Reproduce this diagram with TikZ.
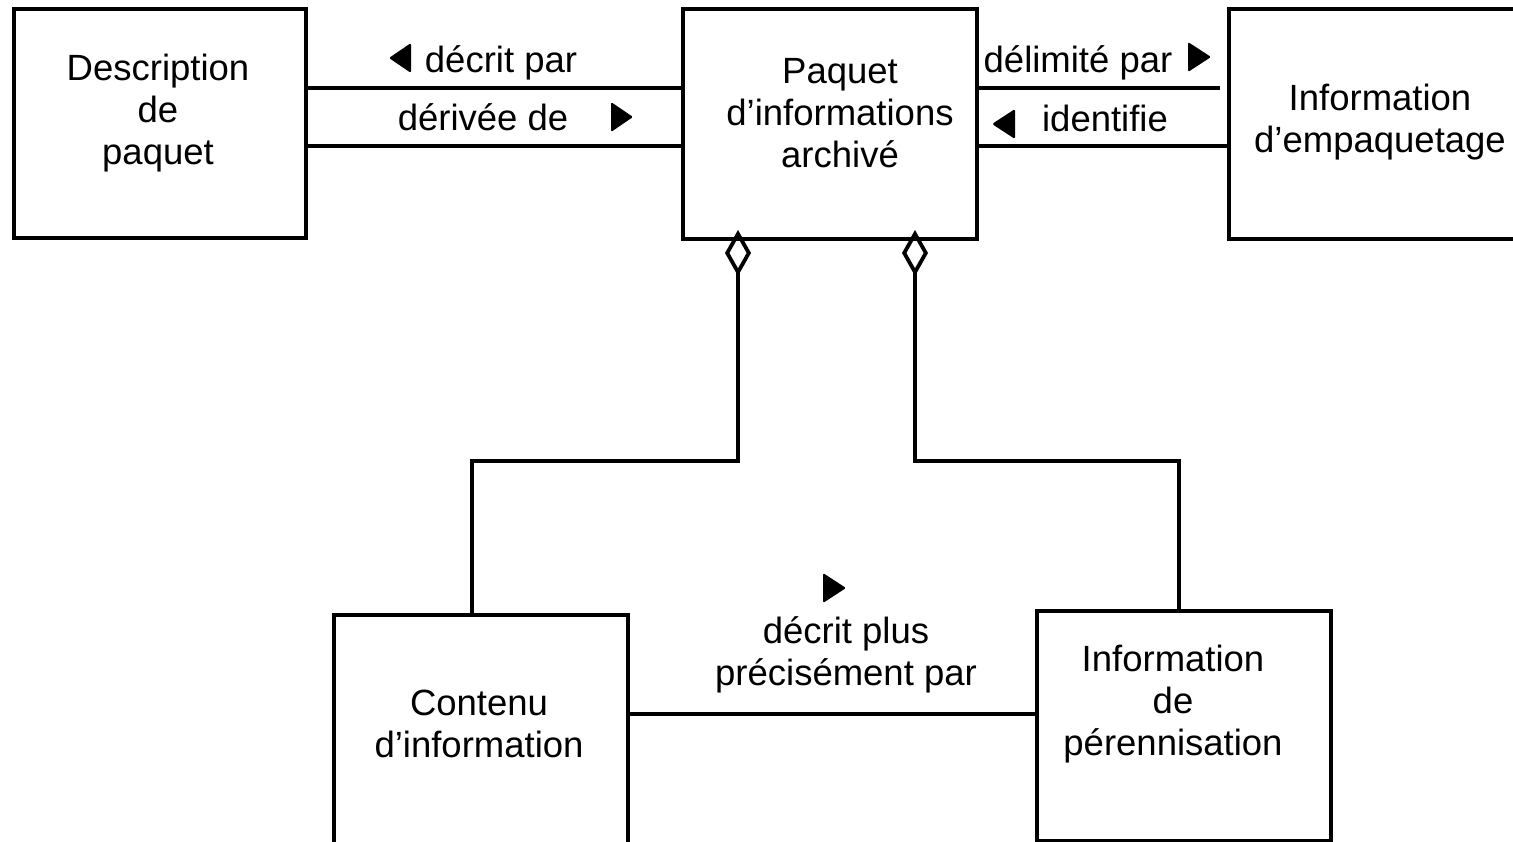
\documentclass[tikz,border=0pt]{standalone}
\usepackage{fontspec}
\setmainfont{Liberation Sans}
\usetikzlibrary{arrows.meta}
\begin{document}
\begin{tikzpicture}[x=1pt,y=-1pt,
  box/.style={draw, line width=3.8pt, inner sep=0pt, anchor=north west},
  lbl/.style={font=\fontsize{36.5}{42}\selectfont, align=center, inner sep=0pt},
  conn/.style={line width=3.8pt},
  agg/.style={conn, {Diamond[open, length=46pt, width=26pt, line width=3.8pt]}-},
  tri/.style={fill=black, rounded corners=1.5pt}]
\useasboundingbox (0,0) rectangle (1513,842);
\clip (0,0) rectangle (1513,842);
% boxes
\node[box, minimum width=292pt, minimum height=229pt] (dp) at (12,7) {};
\node[box, minimum width=294pt, minimum height=230pt] (pia) at (681,7) {};
\node[box, minimum width=330pt, minimum height=230pt] (ie) at (1227,7) {};
\node[box, minimum width=294pt, minimum height=250pt] (ci) at (332,613) {};
\node[box, minimum width=294pt, minimum height=230pt] (ip) at (1035,609) {};
% box texts
\node[lbl] (tdp) at (158,113) {Description\\de\\paquet};
\node[lbl] (tpia) at (840,113) {Paquet\\d’informations\\archivé};
\node[lbl] (tie) at (1380,122) {Information\\d’empaquetage};
\node[lbl] (tci) at (479,724) {Contenu\\d’information};
\node[lbl] (tip) at (1173,704) {Information\\de\\pérennisation};
% helper coordinates
\coordinate (y88) at (0,88);
\coordinate (y146) at (0,146);
\coordinate (y714) at (0,714);
\coordinate (y230) at (0,230);
\coordinate (e88) at (1220,88);
\coordinate (k1) at (738,461);
\coordinate (k2) at (472,461);
\coordinate (k3) at (915,461);
\coordinate (k4) at (1179,461);
% connectors
\draw[conn] (dp.east |- y88) -- (pia.west |- y88);
\draw[conn] (dp.east |- y146) -- (pia.west |- y146);
\draw[conn] (pia.east |- y88) -- (e88);
\draw[conn] (pia.east |- y146) -- (ie.west |- y146);
\draw[agg] (k1 |- y230) -- (k1) -- (k2) -- (ci.north -| k2);
\draw[agg] (k3 |- y230) -- (k3) -- (k4) -- (ip.north -| k4);
\draw[conn] (ci.east |- y714) -- (ip.west |- y714);
% labels
\node[lbl, anchor=base] (l1) at (501,73) {décrit par};
\node[lbl, anchor=base] (l2) at (483,131) {dérivée de};
\node[lbl, anchor=base] (l3) at (1078,73) {délimité par};
\node[lbl, anchor=base] (l4) at (1105,132) {identifie};
\node[lbl] (l5) at (846,655) {décrit plus\\précisément par};
% direction triangles
\fill[tri] (389,58) -- (411,43) -- (411,73) -- cycle;
\fill[tri] (633,117) -- (611,102) -- (611,132) -- cycle;
\fill[tri] (1211,57) -- (1188,42) -- (1188,72) -- cycle;
\fill[tri] (992,124) -- (1015,109) -- (1015,139) -- cycle;
\fill[tri] (846,588) -- (823,573) -- (823,603) -- cycle;
\end{tikzpicture}
\end{document}
